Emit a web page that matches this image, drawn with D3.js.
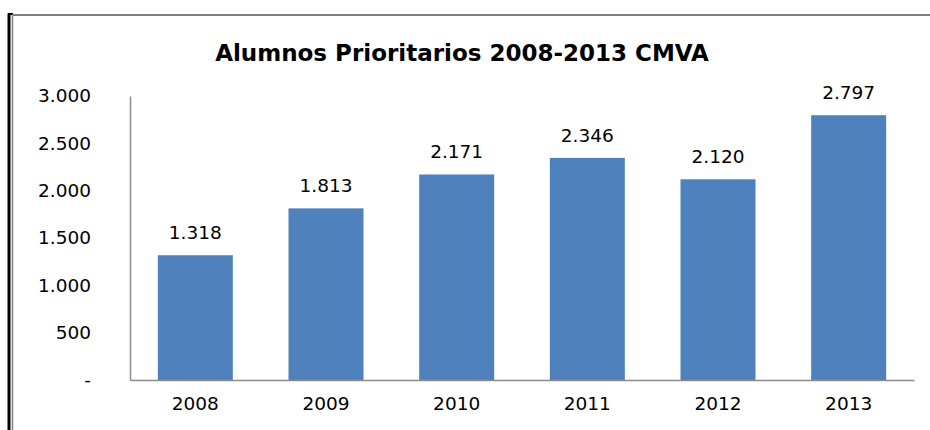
<!DOCTYPE html>
<html><head><meta charset="utf-8">
<script src="https://cdn.jsdelivr.net/npm/d3@7"></script>
<style>body{margin:0;background:#fff}svg{display:block}</style>
</head><body>
<svg id="c" width="930" height="430"></svg>
<script>
const categories = ["2008","2009","2010","2011","2012","2013"];
const values = [1318,1813,2171,2346,2120,2797];
const yTicks = [0,500,1000,1500,2000,2500,3000];
const title = "Alumnos Prioritarios 2008-2013 CMVA";

const svg = d3.select("#c");
const font = "'DejaVu Sans', Verdana, sans-serif";
const fmt = v => v === 0 ? "-" : d3.format(",")(v).replace(/,/g, ".");
const fs = 18.5;

// frame
svg.append("line").attr("x1",9).attr("x2",9).attr("y1",13.5).attr("y2",430).attr("stroke","#000").attr("stroke-width",3);
svg.append("line").attr("x1",8).attr("x2",13).attr("y1",14).attr("y2",14).attr("stroke","#000").attr("stroke-width",2);
svg.append("line").attr("x1",12.5).attr("x2",12.5).attr("y1",15).attr("y2",430).attr("stroke","#808080").attr("stroke-width",1.5);
svg.append("line").attr("x1",12).attr("x2",930).attr("y1",15).attr("y2",15).attr("stroke","#808080").attr("stroke-width",2);

const x = d3.scaleBand().domain(categories).range([130,914]).paddingInner(0.426).paddingOuter(0.213);
const y = d3.scaleLinear().domain([0,3000]).range([380,96]);

svg.append("text").attr("x",462).attr("y",61).attr("text-anchor","middle")
  .attr("font-family",font).attr("font-weight","bold").attr("font-size",23).text(title);

svg.selectAll("rect.bar").data(values).join("rect").attr("class","bar")
  .attr("x",(d,i)=>x(categories[i])).attr("width",x.bandwidth())
  .attr("y",d=>y(d)).attr("height",d=>y(0)-y(d)).attr("fill","#4F81BD");

const yAxis = svg.append("g").attr("transform","translate(130,0)")
  .call(d3.axisLeft(y).tickValues(yTicks).tickFormat(fmt).tickSize(0).tickPadding(39));
yAxis.select(".domain").attr("stroke","#8c8c8c").attr("stroke-width",1.5);
yAxis.selectAll("text").attr("font-family",font).attr("font-size",fs).attr("fill","#000");

const xAxis = svg.append("g").attr("transform","translate(0,380)")
  .call(d3.axisBottom(x).tickSize(0).tickPadding(17));
xAxis.select(".domain").attr("stroke","#8c8c8c").attr("stroke-width",1.5);
xAxis.selectAll("text").attr("font-family",font).attr("font-size",fs).attr("fill","#000");

svg.selectAll("text.val").data(values).join("text").attr("class","val")
  .attr("x",(d,i)=>x(categories[i])+x.bandwidth()/2).attr("y",d=>y(d)-16)
  .attr("text-anchor","middle").attr("font-family",font).attr("font-size",fs).text(fmt);
</script>
</body></html>
